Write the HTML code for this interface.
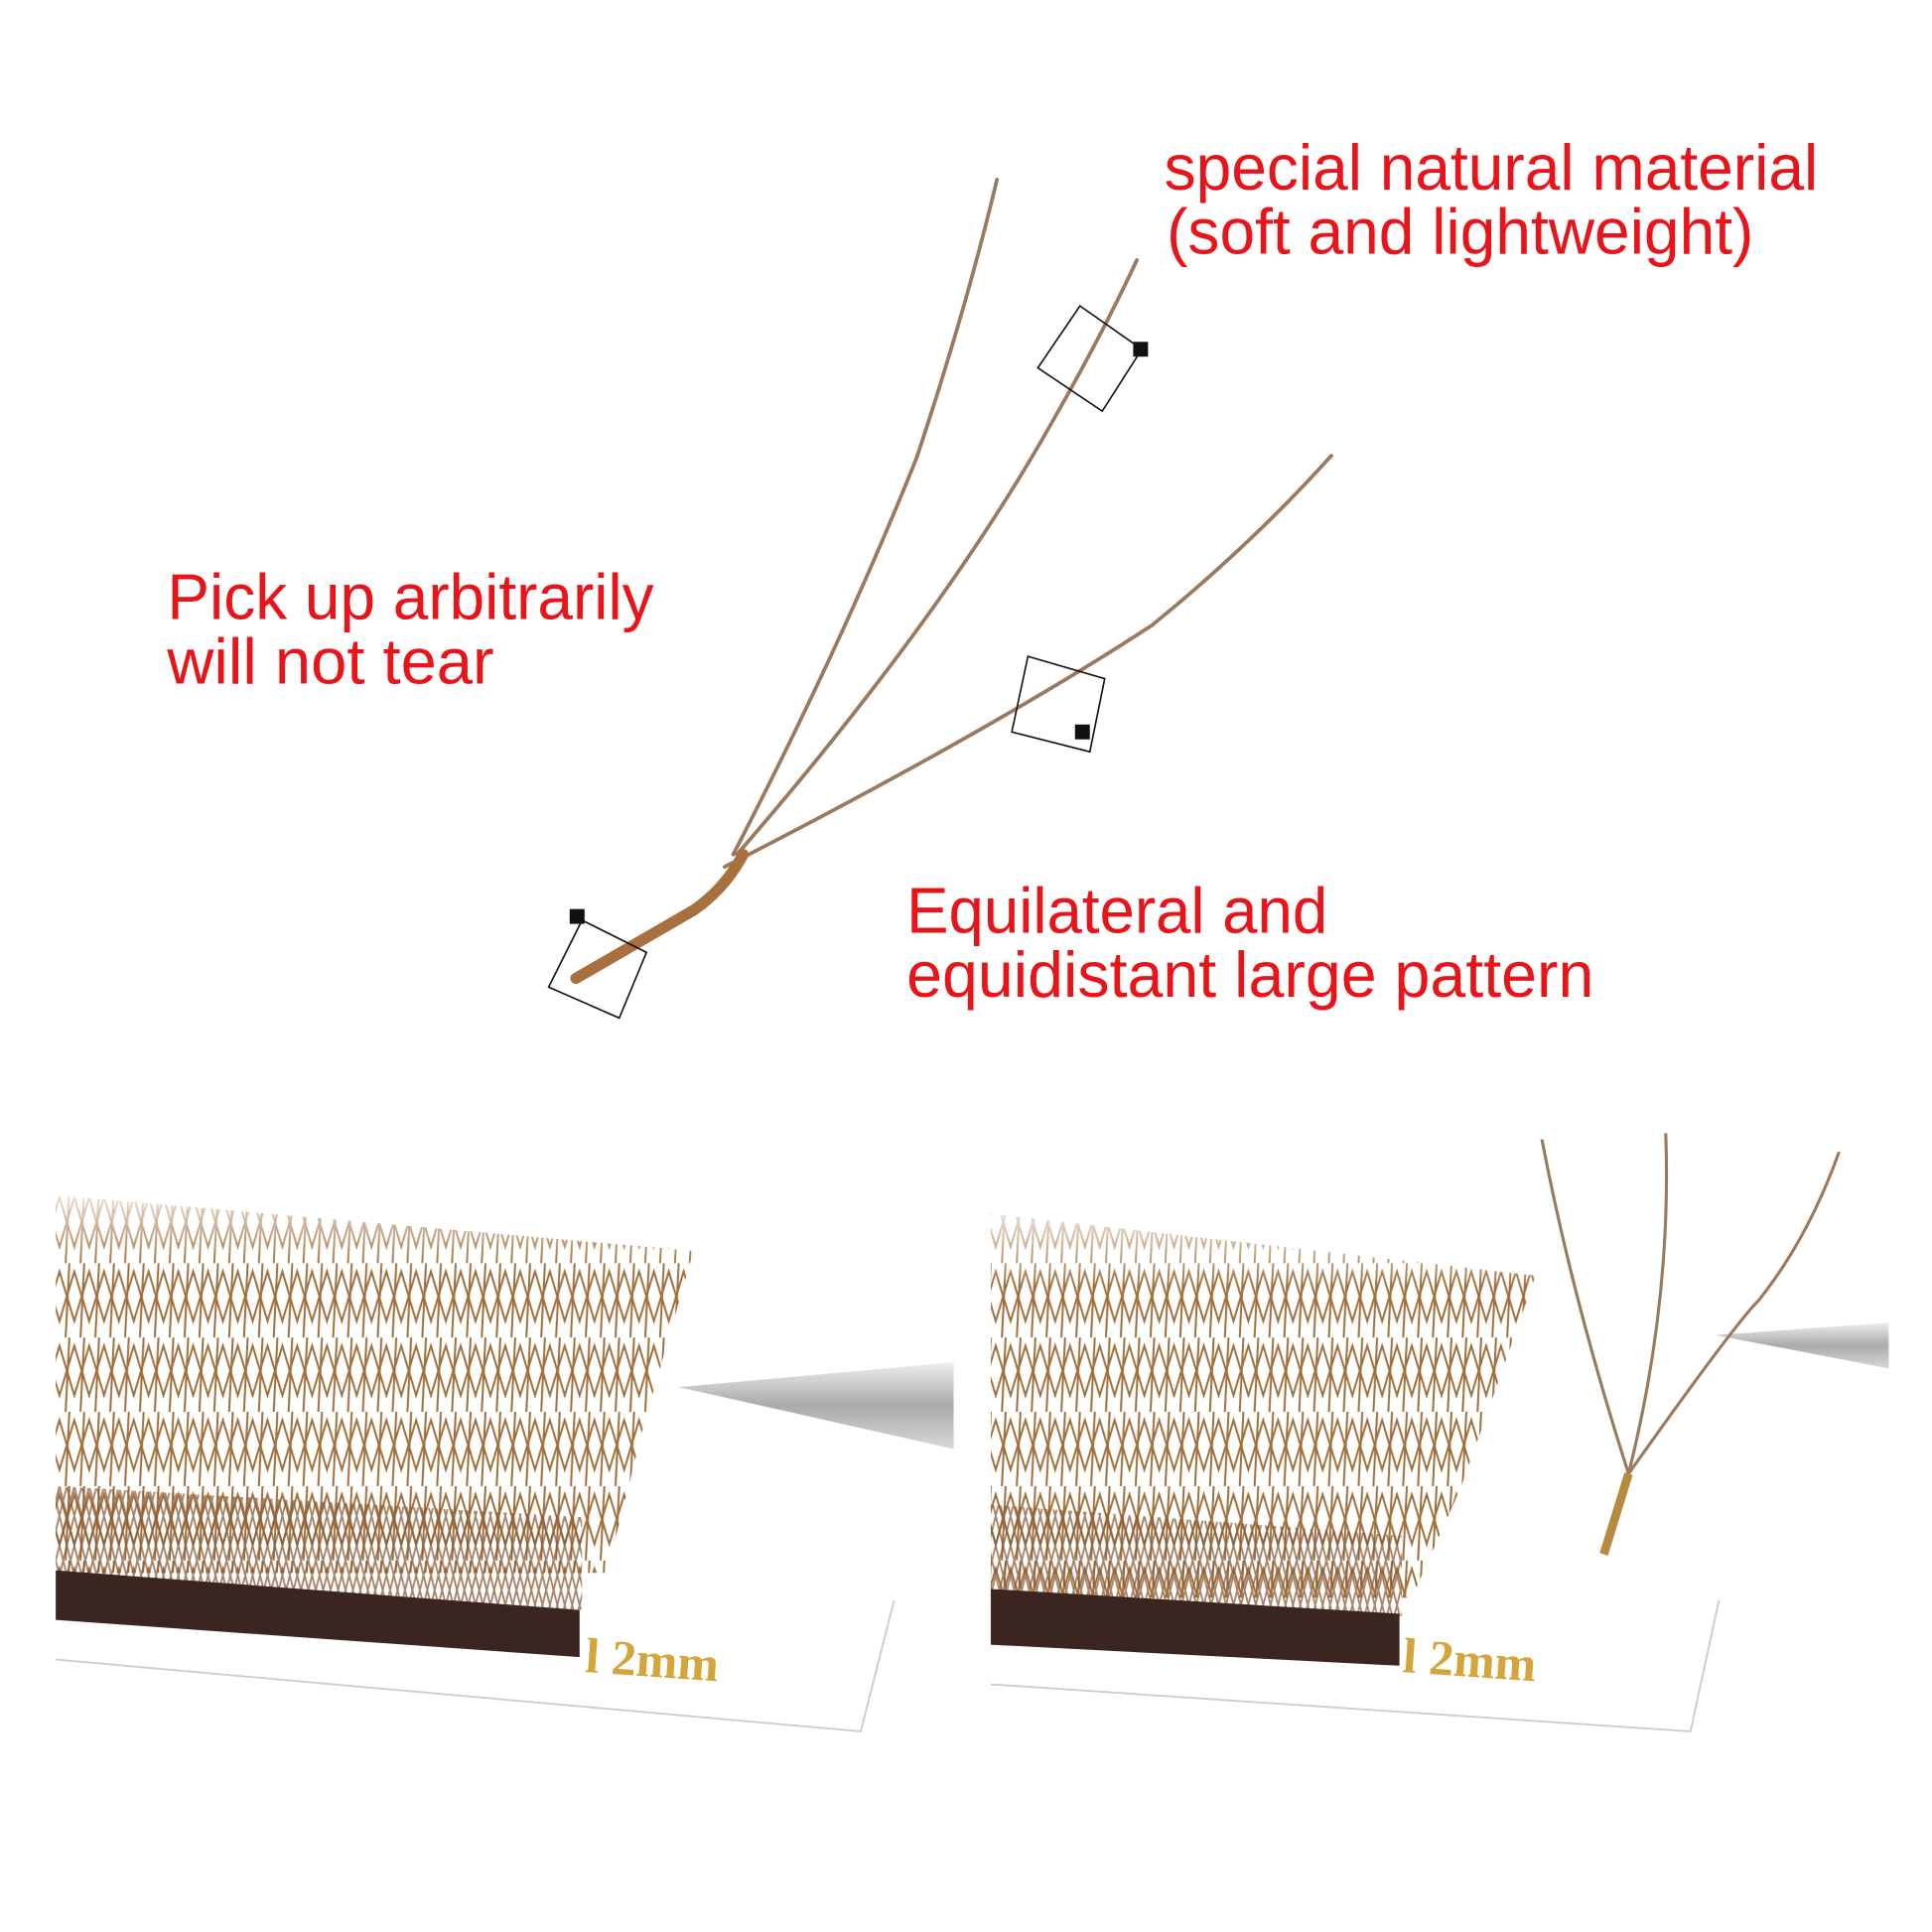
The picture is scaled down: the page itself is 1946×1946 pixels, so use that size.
<!DOCTYPE html>
<html><head><meta charset="utf-8"><style>html,body{margin:0;padding:0;background:#fff}svg{display:block}</style></head>
<body>
<svg width="1946" height="1946" viewBox="0 0 1560 1560" xmlns="http://www.w3.org/2000/svg">
<defs>
<pattern id="lash" width="12" height="60" patternUnits="userSpaceOnUse">
<path d="M-4 60 L14 0 M16 60 L-2 0 M5 60 L8 0" stroke="#a06f3c" stroke-width="1.6" fill="none"/>
</pattern>
<pattern id="lash2" width="6" height="24" patternUnits="userSpaceOnUse">
<path d="M0 24 L6 0 M6 24 L0 0" stroke="#8a5a36" stroke-width="1.5" fill="none"/>
</pattern>
<linearGradient id="tw" x1="0" y1="0" x2="0" y2="1"><stop offset="0" stop-color="#eee"/><stop offset="0.5" stop-color="#aaa"/><stop offset="1" stop-color="#d8d8d8"/></linearGradient>
<linearGradient id="fade" x1="0" y1="0" x2="0" y2="1"><stop offset="0" stop-color="#fff" stop-opacity="0.85"/><stop offset="0.2" stop-color="#fff" stop-opacity="0"/></linearGradient>
</defs>
<rect width="1560" height="1560" fill="#fff"/>
<g font-family="'Liberation Sans', sans-serif" fill="#e8141a" font-size="52">
<text x="940" y="153" textLength="528" lengthAdjust="spacingAndGlyphs">special natural material</text>
<text x="942" y="205" textLength="474" lengthAdjust="spacingAndGlyphs">(soft and lightweight)</text>
<text x="135" y="500" textLength="393" lengthAdjust="spacingAndGlyphs">Pick up arbitrarily</text>
<text x="135" y="552" textLength="264" lengthAdjust="spacingAndGlyphs">will not tear</text>
<text x="732" y="753" textLength="340" lengthAdjust="spacingAndGlyphs">Equilateral and</text>
<text x="732" y="805" textLength="555" lengthAdjust="spacingAndGlyphs">equidistant large pattern</text>
</g>
<g fill="none" stroke-linecap="round">
<path d="M592 690 Q680 520 740 370 Q780 250 805 145" stroke="#9a7a5e" stroke-width="3"/>
<path d="M595 690 Q760 500 850 340 Q890 270 918 210" stroke="#9a7a5e" stroke-width="3"/>
<path d="M585 700 Q800 590 930 505 Q1010 440 1075 368" stroke="#9a7a5e" stroke-width="3"/>
<path d="M465 790 L560 735 Q585 718 600 690" stroke="#a8703e" stroke-width="9"/>
</g>
<g fill="none" stroke="#111" stroke-width="1.3">
<polygon points="872,247 922,282 890,332 838,297"/>
<polygon points="830,530 892,548 880,607 817,591"/>
<polygon points="470,743 522,769 500,822 443,797"/>
</g>
<g fill="#111">
<rect x="915" y="276" width="12" height="12"/>
<rect x="868" y="585" width="12" height="12"/>
<rect x="460" y="734" width="12" height="12"/>
</g>
<!-- left panel -->
<polygon points="45,1335 722,1290 695,1398 45,1340" fill="#fff"/>
<path d="M45 1340 L695 1398 L722 1292" fill="none" stroke="#ccc" stroke-width="1.5"/>
<polygon points="548,1120 770,1100 770,1170" fill="url(#tw)"/>
<polygon points="45,965 560,1010 520,1150 490,1270 45,1270" fill="url(#lash)"/>
<rect x="45" y="960" width="520" height="320" fill="url(#fade)"/>
<polygon points="45,1200 470,1225 470,1300 45,1270" fill="url(#lash2)" opacity="0.75"/>
<polygon points="45,1268 468,1300 468,1338 45,1308" fill="#3a2520"/>
<text x="472" y="1350" font-family="'Liberation Serif', serif" font-weight="bold" font-size="40" fill="#d4a53a" transform="rotate(4 472 1350)">l 2mm</text>
<!-- right panel -->
<polygon points="800,1325 1388,1290 1365,1398 800,1360" fill="#fff"/>
<path d="M800 1360 L1365 1398 L1388 1292" fill="none" stroke="#ccc" stroke-width="1.5"/>
<polygon points="1385,1078 1525,1068 1525,1105" fill="url(#tw)"/>
<polygon points="800,980 1240,1030 1180,1200 1140,1290 800,1290" fill="url(#lash)"/>
<rect x="800" y="975" width="450" height="320" fill="url(#fade)"/>
<polygon points="800,1215 1132,1240 1132,1305 800,1285" fill="url(#lash2)" opacity="0.75"/>
<polygon points="800,1283 1130,1303 1130,1345 800,1328" fill="#3a2520"/>
<text x="1132" y="1350" font-family="'Liberation Serif', serif" font-weight="bold" font-size="40" fill="#d4a53a" transform="rotate(4 1132 1350)">l 2mm</text>
<g fill="none" stroke="#9a7a5e" stroke-width="2.5">
<path d="M1315 1190 Q1270 1050 1245 920"/>
<path d="M1315 1190 Q1350 1050 1345 915"/>
<path d="M1315 1190 Q1400 1070 1420 1050 Q1460 1000 1485 930"/>
<path d="M1295 1255 L1315 1190" stroke="#b88a40" stroke-width="7"/>
</g>
</svg>
</body></html>
